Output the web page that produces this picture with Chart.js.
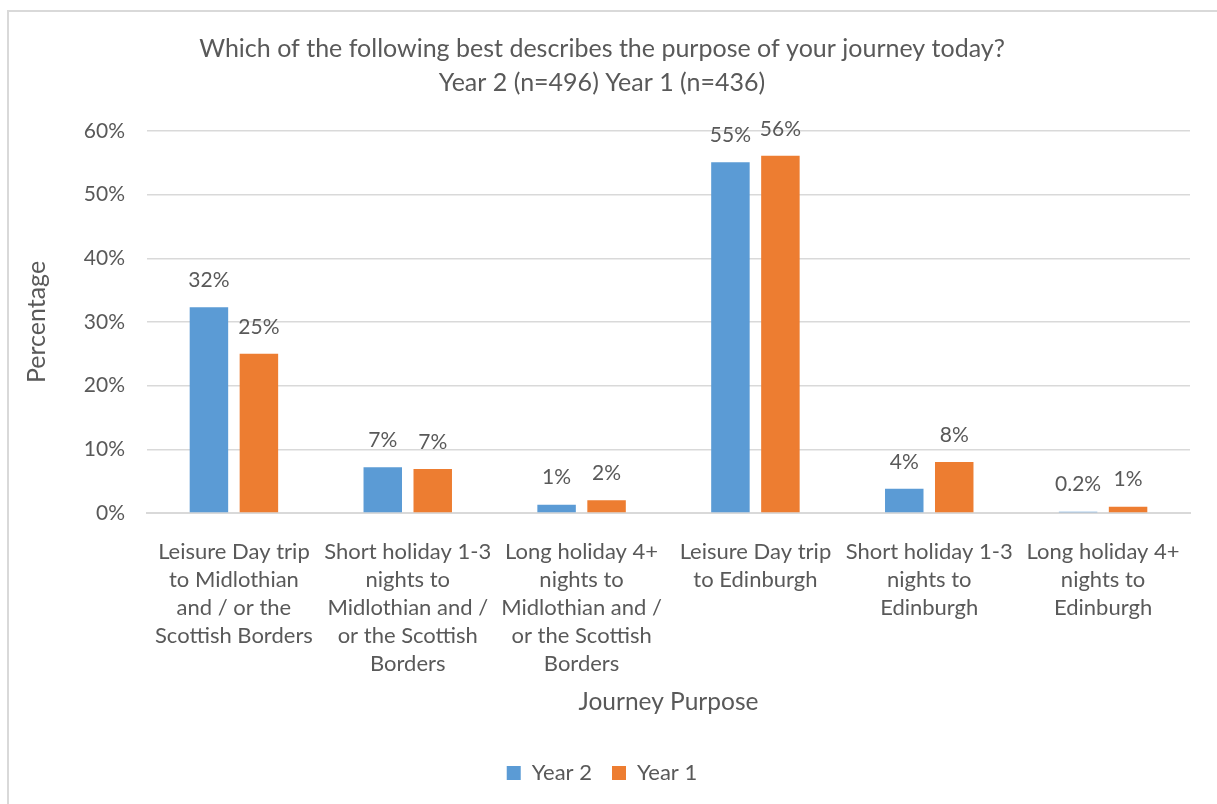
<!DOCTYPE html>
<html>
<head>
<meta charset="utf-8">
<script src="https://cdn.jsdelivr.net/npm/chart.js@4.4.1/dist/chart.umd.min.js"></script>
<style>
  html, body { margin: 0; padding: 0; background: #ffffff; overflow: hidden; }
  #wrap { position: absolute; left: 0; top: 0; width: 1217px; height: 804px; }
  #frame { position: absolute; left: 7px; top: 10px; width: 1220px; height: 800px;
           border-left: 2px solid #d9d9d9; border-top: 2px solid #d9d9d9; box-sizing: border-box; }
  canvas { position: absolute; left: 0; top: 0; }
</style>
</head>
<body>
<div id="wrap">
  <div id="frame"></div>
  <canvas id="c" width="1217" height="804"></canvas>
</div>
<script>
const categories = [
  ["Leisure Day trip", "to Midlothian", "and / or the", "Scottish Borders"],
  ["Short holiday 1-3", "nights to", "Midlothian and /", "or the Scottish", "Borders"],
  ["Long holiday 4+", "nights to", "Midlothian and /", "or the Scottish", "Borders"],
  ["Leisure Day trip", "to Edinburgh"],
  ["Short holiday 1-3", "nights to", "Edinburgh"],
  ["Long holiday 4+", "nights to", "Edinburgh"]
];
const year2Values = [32.3, 7.2, 1.3, 55.1, 3.8, 0.2];
const year1Values = [25.0, 6.9, 2.0, 56.1, 8.0, 1.0];
const seriesNames = ["Year 2", "Year 1"];
const yTicks = [0, 10, 20, 30, 40, 50, 60];
const titleLines = ["Which of the following best describes the purpose of your journey today?", "Year 2 (n=496) Year 1 (n=436)"];

const FONT = "Lato, 'Open Sans', sans-serif";
const TXT = "#595959";
const PLOT_LEFT = 147, PLOT_BOTTOM = 513, PAD_LEFT = 14;

const fmt = v => v < 1 ? v.toFixed(1) + "%" : Math.round(v) + "%";

const labelPlugin = {
  id: "barLabels",
  afterDatasetsDraw(chart) {
    const ctx = chart.ctx;
    ctx.save();
    ctx.font = "21px " + FONT;
    ctx.fillStyle = TXT;
    ctx.textAlign = "center";
    ctx.textBaseline = "middle";
    chart.data.datasets.forEach((ds, di) => {
      const meta = chart.getDatasetMeta(di);
      meta.data.forEach((el, i) => {
        ctx.fillText(fmt(ds.data[i]), el.x, el.y - 27);
      });
    });
    ctx.restore();
  }
};

new Chart(document.getElementById("c"), {
  type: "bar",
  data: {
    labels: categories,
    datasets: [
      { label: seriesNames[0], data: year2Values, backgroundColor: "#5B9BD5",
        categoryPercentage: 0.575, barPercentage: 0.77 },
      { label: seriesNames[1], data: year1Values, backgroundColor: "#ED7D31",
        categoryPercentage: 0.575, barPercentage: 0.77 }
    ]
  },
  options: {
    responsive: false,
    animation: false,
    devicePixelRatio: 1,
    layout: { padding: { left: PAD_LEFT, right: 27, top: 0, bottom: 10 } },
    plugins: {
      title: {
        display: true, text: titleLines, color: TXT,
        font: { family: FONT, size: 25, weight: "normal", lineHeight: 1.36 },
        padding: { top: 32, bottom: 31 }
      },
      legend: {
        position: "bottom",
        labels: { color: TXT, font: { family: FONT, size: 22 }, boxWidth: 14, boxHeight: 14, padding: 20 }
      },
      tooltip: { enabled: false }
    },
    scales: {
      x: {
        grid: { display: false },
        border: { display: true, color: "#d9d9d9", width: 2 },
        ticks: { color: TXT, font: { family: FONT, size: 22, lineHeight: 1.27 }, maxRotation: 0, autoSkip: false, padding: 17 },
        title: { display: true, text: "Journey Purpose", color: TXT, font: { family: FONT, size: 24.5 }, padding: { top: 10, bottom: 25 } },
        afterFit(scale) {
          const lg = scale.chart.legend;
          const lh = lg ? lg.height : 0;
          scale.height = 804 - 10 - lh - PLOT_BOTTOM;
        }
      },
      y: {
        min: 0, max: 60,
        afterBuildTicks(scale) { scale.ticks = yTicks.map(v => ({ value: v })); },
        grid: { color: "#d9d9d9", lineWidth: 1.5, drawTicks: false },
        border: { display: false },
        ticks: { color: TXT, font: { family: FONT, size: 21 }, padding: 22, callback: v => v + "%" },
        title: { display: true, text: "Percentage", color: TXT, font: { family: FONT, size: 25 }, padding: { top: 8, bottom: 0 } },
        afterFit(scale) { scale.width = PLOT_LEFT - PAD_LEFT; }
      }
    }
  },
  plugins: [labelPlugin]
});
</script>
</body>
</html>
